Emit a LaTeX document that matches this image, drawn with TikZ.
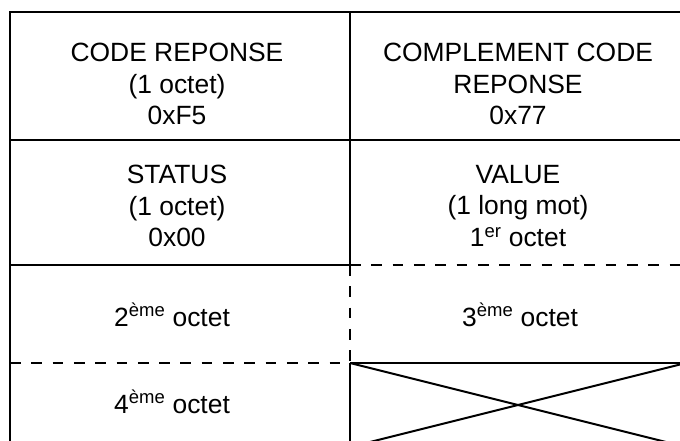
\documentclass[tikz,border=0pt]{standalone}
\usepackage{fontspec}
\setmainfont{Liberation Sans}
\begin{document}
\begin{tikzpicture}[x=1pt,y=-1pt,
  frame/.style={line width=2pt},
  dashframe/.style={line width=2pt, dash pattern=on 10.7pt off 10.6pt},
  cell/.style={font=\fontsize{26.4}{31.7}\selectfont, align=center, inner sep=0pt}]
\useasboundingbox (0,0) rectangle (680,441);
\fill[white] (0,0) rectangle (680,441);
\coordinate (tl) at (10,12);
\coordinate (tm) at (350,12);
\coordinate (tr) at (686,12);
\coordinate (l1) at (10,140);
\coordinate (m1) at (350,140);
\coordinate (r1) at (686,140);
\coordinate (l2) at (10,265);
\coordinate (m2) at (350,265);
\coordinate (r2) at (686,265);
\coordinate (l3) at (10,363);
\coordinate (m3) at (350,363);
\coordinate (r3) at (686,363);
\coordinate (bl) at (10,447);
\coordinate (bm) at (350,447);
\coordinate (br) at (686,447);
\begin{scope}
\clip (0,0) rectangle (680,441);
\draw[frame] (tr) -- (tl) -- (bl);
\draw[frame] (l1) -- (r1);
\draw[frame] (l2) -- (m2);
\draw[dashframe] (m2) -- (r2);
\draw[dashframe] (l3) -- (m3);
\draw[frame] (m3) -- (r3);
\draw[frame] (tm) -- (m2);
\draw[dashframe] (m2) -- (m3);
\draw[frame] (m3) -- (bm);
\draw[frame] (m3) -- (br);
\draw[frame] (bm) -- (r3);
\end{scope}
\node[cell] (c11) at (177,84) {CODE REPONSE\\(1 octet)\\0xF5};
\node[cell] (c12) at (518,84) {COMPLEMENT CODE\\REPONSE\\0x77};
\node[cell] (c21) at (177,206) {STATUS\\(1 octet)\\0x00};
\node[cell] (c22) at (518,206) {VALUE\\(1 long mot)\\1\textsuperscript{er} octet};
\node[cell, anchor=base] (c31) at (172,326) {2\textsuperscript{ème} octet};
\node[cell, anchor=base] (c32) at (520,326) {3\textsuperscript{ème} octet};
\node[cell, anchor=base] (c41) at (172,413) {4\textsuperscript{ème} octet};
\end{tikzpicture}
\end{document}
